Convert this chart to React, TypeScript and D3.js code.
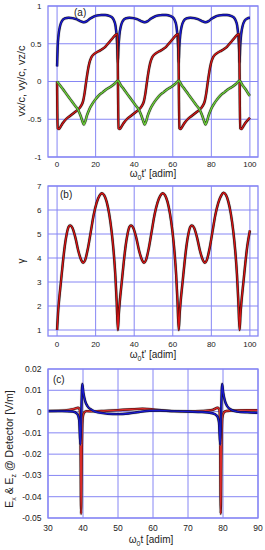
import React, { useEffect, useRef } from 'react';
import * as d3 from 'd3';

// panel (a): velocity components vs w0 t'  ([t, value])
const vxRed: [number, number][] = [
  [0, 0], [0.3, -0.62], [1, -0.63], [2, -0.59], [3, -0.55], [5, -0.49], [7, -0.45], [9, -0.41],
  [11, -0.37], [12.5, -0.32], [13.5, -0.26], [14.3, -0.15], [15, -0.02], [15.8, 0.12], [16.7, 0.24],
  [17.8, 0.32], [19.5, 0.37], [21.5, 0.4], [23.5, 0.43], [25, 0.46], [27, 0.52], [29, 0.58],
  [30.5, 0.62], [31.3, 0.63],
  [31.85, -0.62], [32.55, -0.63], [33.55, -0.59], [34.55, -0.55], [36.55, -0.49], [38.55, -0.45],
  [40.55, -0.41], [42.55, -0.37], [44.05, -0.32], [45.05, -0.26], [45.85, -0.15], [46.55, -0.02],
  [47.35, 0.12], [48.25, 0.24], [49.35, 0.32], [51.05, 0.37], [53.05, 0.4], [55.05, 0.43],
  [56.55, 0.46], [58.55, 0.52], [60.55, 0.58], [62.05, 0.62], [62.85, 0.63],
  [63.4, -0.62], [64.1, -0.63], [65.1, -0.59], [66.1, -0.55], [68.1, -0.49], [70.1, -0.45],
  [72.1, -0.41], [74.1, -0.37], [75.6, -0.32], [76.6, -0.26], [77.4, -0.15], [78.1, -0.02],
  [78.9, 0.12], [79.8, 0.24], [80.9, 0.32], [82.6, 0.37], [84.6, 0.4], [86.6, 0.43], [88.1, 0.46],
  [90.1, 0.52], [92.1, 0.58], [93.6, 0.62], [94.4, 0.63],
  [94.95, -0.62], [95.65, -0.63], [96.65, -0.59], [97.65, -0.55], [99.65, -0.49], [100, -0.48],
];

const vyGreen: [number, number][] = [
  [0, 0], [1.5, -0.05], [3, -0.1], [5, -0.17], [7, -0.24], [9, -0.31], [11, -0.38], [12.3, -0.46],
  [13.2, -0.53], [13.9, -0.57], [14.6, -0.53], [15.5, -0.45], [16.7, -0.37], [18.2, -0.3],
  [19.8, -0.24], [21.8, -0.18], [23.8, -0.14], [25.8, -0.1], [27.8, -0.07], [29.8, -0.03], [31.55, 0.01],
  [33.05, -0.05], [34.55, -0.1], [36.55, -0.17], [38.55, -0.24], [40.55, -0.31], [42.55, -0.38],
  [43.85, -0.46], [44.75, -0.53], [45.45, -0.57], [46.15, -0.53], [47.05, -0.45], [48.25, -0.37],
  [49.75, -0.3], [51.35, -0.24], [53.35, -0.18], [55.35, -0.14], [57.35, -0.1], [59.35, -0.07],
  [61.35, -0.03], [63.1, 0.01],
  [64.6, -0.05], [66.1, -0.1], [68.1, -0.17], [70.1, -0.24], [72.1, -0.31], [74.1, -0.38],
  [75.4, -0.46], [76.3, -0.53], [77.0, -0.57], [77.7, -0.53], [78.6, -0.45], [79.8, -0.37],
  [81.3, -0.3], [82.9, -0.24], [84.9, -0.18], [86.9, -0.14], [88.9, -0.1], [90.9, -0.07],
  [92.9, -0.03], [94.65, 0.01],
  [96.15, -0.05], [97.65, -0.1], [99.65, -0.18], [100, -0.19],
];

const vzBlue: [number, number][] = [
  [0, 0.2], [0.3, 0.45], [0.8, 0.62], [1.5, 0.73], [2.5, 0.8], [4, 0.835], [6, 0.845], [8, 0.84],
  [10, 0.825], [12, 0.8], [13.8, 0.785], [15.5, 0.8], [17, 0.83], [19, 0.86], [21, 0.875], [23, 0.88],
  [25, 0.88], [27, 0.87], [28.5, 0.85], [29.5, 0.81], [30.3, 0.74], [30.9, 0.6], [31.3, 0.42], [31.55, 0.25],
  [31.85, 0.45], [32.35, 0.62], [33.05, 0.73], [34.05, 0.8], [35.55, 0.835], [37.55, 0.845],
  [39.55, 0.84], [41.55, 0.825], [43.55, 0.8], [45.35, 0.785], [47.05, 0.8], [48.55, 0.83],
  [50.55, 0.86], [52.55, 0.875], [54.55, 0.88], [56.55, 0.88], [58.55, 0.87], [60.05, 0.85],
  [61.05, 0.81], [61.85, 0.74], [62.45, 0.6], [62.85, 0.42], [63.1, 0.25],
  [63.4, 0.45], [63.9, 0.62], [64.6, 0.73], [65.6, 0.8], [67.1, 0.835], [69.1, 0.845], [71.1, 0.84],
  [73.1, 0.825], [75.1, 0.8], [76.9, 0.785], [78.6, 0.8], [80.1, 0.83], [82.1, 0.86], [84.1, 0.875],
  [86.1, 0.88], [88.1, 0.88], [90.1, 0.87], [91.6, 0.85], [92.6, 0.81], [93.4, 0.74], [94.0, 0.6],
  [94.4, 0.42], [94.65, 0.25],
  [94.95, 0.45], [95.45, 0.62], [96.15, 0.73], [97.15, 0.8], [98.65, 0.835], [100, 0.845],
];

// panel (b): gamma vs w0 t'
const gammaRed: [number, number][] = [
  [0, 1], [0.5, 1.7], [1, 2.2], [2, 3.0], [3, 3.8], [4, 4.5], [5, 5.0], [6, 5.3], [6.8, 5.36],
  [8, 5.25], [9.5, 4.85], [11, 4.3], [12.5, 3.92], [13.5, 3.8], [14.5, 3.9], [16, 4.4], [17.5, 5.1],
  [19, 5.8], [20.5, 6.3], [22, 6.6], [23.2, 6.7], [24.4, 6.62], [25.7, 6.35], [27, 5.85], [28.3, 5.1],
  [29.3, 4.3], [30.2, 3.3], [30.9, 2.2], [31.55, 1],
  [32.05, 1.7], [32.55, 2.2], [33.55, 3.0], [34.55, 3.8], [35.55, 4.5], [36.55, 5.0], [37.55, 5.3],
  [38.35, 5.36], [39.55, 5.25], [41.05, 4.85], [42.55, 4.3], [44.05, 3.92], [45.05, 3.8], [46.05, 3.9],
  [47.55, 4.4], [49.05, 5.1], [50.55, 5.8], [52.05, 6.3], [53.55, 6.6], [54.75, 6.7], [55.95, 6.62],
  [57.25, 6.35], [58.55, 5.85], [59.85, 5.1], [60.85, 4.3], [61.75, 3.3], [62.45, 2.2], [63.1, 1],
  [63.6, 1.7], [64.1, 2.2], [65.1, 3.0], [66.1, 3.8], [67.1, 4.5], [68.1, 5.0], [69.1, 5.3],
  [69.9, 5.36], [71.1, 5.25], [72.6, 4.85], [74.1, 4.3], [75.6, 3.92], [76.6, 3.8], [77.6, 3.9],
  [79.1, 4.4], [80.6, 5.1], [82.1, 5.8], [83.6, 6.3], [85.1, 6.6], [86.3, 6.72], [87.5, 6.64],
  [88.8, 6.35], [90.1, 5.85], [91.4, 5.1], [92.4, 4.3], [93.3, 3.3], [94.0, 2.2], [94.65, 1],
  [95.15, 1.7], [95.65, 2.2], [96.65, 3.0], [97.65, 3.8], [98.65, 4.5], [100, 5.15],
];

// panel (c): fields at detector vs w0 t
const exRed: [number, number][] = [
  [30, 0.0003], [33, 0.0004], [36, 0.0008], [37.5, 0.0013], [38.6, 0.0018], [39.05, 0.001],
  [39.25, -0.006], [39.45, -0.048], [39.65, -0.018], [39.9, -0.003], [40.3, -0.0005], [41, 0.0002],
  [43, 0.0001], [46, 0.0003], [50, 0.0007], [54, 0.0011], [57, 0.0013], [60, 0.001], [63, 0.0005],
  [66, 0.0002], [70, 0.0001], [74, 0.0003], [77, 0.0008], [78.5, 0.0018], [78.95, 0.001],
  [79.15, -0.006], [79.35, -0.048], [79.55, -0.018], [79.8, -0.003], [80.2, -0.0005], [81, 0.0003],
  [84, 0.0005], [87, 0.0006], [90, 0.0006],
];

const ezBlue: [number, number][] = [
  [30, 0.0002], [34, 0.0002], [37, 0.0], [38.3, -0.001], [38.9, -0.004], [39.25, -0.0155],
  [39.5, -0.001], [39.8, 0.013], [40.1, 0.009], [40.6, 0.005], [41.3, 0.0025], [42.5, 0.0008],
  [44, -0.0003], [47, -0.001], [50, -0.0012], [53, -0.0009], [56, -0.0002], [59, 0.0004],
  [62, 0.0005], [66, 0.0002], [70, 0.0], [74, -0.0002], [77, -0.0008], [78.3, -0.002],
  [78.85, -0.005], [79.2, -0.0155], [79.45, -0.001], [79.75, 0.013], [80.05, 0.009], [80.55, 0.005],
  [81.2, 0.0025], [82.4, 0.0008], [84, 0.0], [87, -0.0004], [90, -0.0006],
];

const tickX_ab = [0, 20, 40, 60, 80, 100];
const tickY_a = [1, 0.5, 0, -0.5, -1];
const tickY_b = [1, 2, 3, 4, 5, 6, 7];
const tickX_c = [30, 40, 50, 60, 70, 80, 90];
const tickY_c = [0.02, 0.01, 0, -0.01, -0.02, -0.03, -0.04, -0.05];

const GRID = '#8686f4';
const FONT = '"Liberation Sans", Arial, Helvetica, sans-serif';

const App = () => {
  const svgRef = useRef<SVGSVGElement>(null);

  useEffect(() => {
    const svg = d3.select(svgRef.current);
    svg.selectAll('*').remove();

    const left = 48;
    const right = 258;

    const panels = [
      {
        id: 'a', top: 6, bottom: 157, xDom: [-4.7, 104.2], yDom: [-1, 1],
        xTicks: tickX_ab, yTicks: tickY_a, tickFs: 8, xLabY: 167,
        series: [
          { data: vzBlue, color: '#1a1ad0', under: '#0a0a30' },
          { data: vxRed, color: '#d01818', under: '#2a0505' },
          { data: vyGreen, color: '#6ccc3a', under: '#1f3a12' },
        ],
      },
      {
        id: 'b', top: 186, bottom: 336, xDom: [-4.7, 104.2], yDom: [0.75, 7],
        xTicks: tickX_ab, yTicks: tickY_b, tickFs: 8, xLabY: 347,
        series: [{ data: gammaRed, color: '#d81414', under: '#1a0a0a' }],
      },
      {
        id: 'c', top: 369, bottom: 518, xDom: [30, 90], yDom: [-0.05, 0.02],
        xTicks: tickX_c, yTicks: tickY_c, tickFs: 8.5, xLabY: 531,
        series: [
          { data: exRed, color: '#dc2a2a', under: '#3a0808' },
          { data: ezBlue, color: '#1a1ad0', under: '#0a0a30' },
        ],
      },
    ];

    panels.forEach((p) => {
      const x = d3.scaleLinear().domain(p.xDom).range([left, right]);
      const y = d3.scaleLinear().domain(p.yDom).range([p.bottom, p.top]);
      const g = svg.append('g');

      // grid
      g.selectAll('.vg')
        .data(p.xTicks)
        .join('line')
        .attr('x1', (d) => x(d)).attr('x2', (d) => x(d))
        .attr('y1', p.top).attr('y2', p.bottom)
        .attr('stroke', GRID).attr('stroke-width', 1);
      g.selectAll('.hg')
        .data(p.yTicks)
        .join('line')
        .attr('x1', left).attr('x2', right)
        .attr('y1', (d) => y(d)).attr('y2', (d) => y(d))
        .attr('stroke', GRID).attr('stroke-width', 1);

      // clip
      svg.append('clipPath').attr('id', `clip-${p.id}`)
        .append('rect')
        .attr('x', left).attr('y', p.top)
        .attr('width', right - left).attr('height', p.bottom - p.top);

      const line = d3.line<[number, number]>()
        .x((d) => x(d[0]))
        .y((d) => y(d[1]))
        .curve(d3.curveMonotoneX);

      const lg = g.append('g').attr('clip-path', `url(#clip-${p.id})`);
      p.series.forEach((s) => {
        lg.append('path').attr('d', line(s.data))
          .attr('fill', 'none').attr('stroke', '#999').attr('stroke-opacity', 0.3)
          .attr('stroke-width', 3.6).attr('stroke-linejoin', 'round');
        lg.append('path').attr('d', line(s.data))
          .attr('fill', 'none').attr('stroke', s.under)
          .attr('stroke-width', 2.4).attr('stroke-linejoin', 'round');
        lg.append('path').attr('d', line(s.data))
          .attr('fill', 'none').attr('stroke', s.color)
          .attr('stroke-width', 1.4).attr('stroke-linejoin', 'round');
      });

      // frame
      g.append('rect')
        .attr('x', left).attr('y', p.top)
        .attr('width', right - left).attr('height', p.bottom - p.top)
        .attr('fill', 'none').attr('stroke', GRID).attr('stroke-width', 1.3);

      // tick labels
      g.selectAll('.xl')
        .data(p.xTicks)
        .join('text')
        .attr('x', (d) => x(d)).attr('y', p.xLabY)
        .attr('text-anchor', 'middle')
        .attr('font-size', p.tickFs).attr('font-family', FONT).attr('fill', '#222')
        .text((d) => String(d));
      g.selectAll('.yl')
        .data(p.yTicks)
        .join('text')
        .attr('x', 41.5).attr('y', (d) => y(d)).attr('dy', '0.35em')
        .attr('text-anchor', 'end')
        .attr('font-size', p.tickFs).attr('font-family', FONT).attr('fill', '#222')
        .text((d) => String(d));
    });

    const txt = (xx: number, yy: number, fs: number, rot = false) =>
      svg.append('text')
        .attr('transform', rot ? `translate(${xx},${yy}) rotate(-90)` : `translate(${xx},${yy})`)
        .attr('text-anchor', 'middle')
        .attr('font-size', fs).attr('font-family', FONT).attr('fill', '#222');

    // x titles
    [[153, 177, "t' [adim]"], [153, 358, "t' [adim]"], [151, 543, 't [adim]']].forEach(([xx, yy, s]) => {
      const t = txt(xx as number, yy as number, 10);
      t.append('tspan').text('\u03c9');
      t.append('tspan').attr('font-size', 7).attr('dy', 3).text('0');
      t.append('tspan').attr('dy', -3).text(s as string);
    });

    // y titles
    txt(25, 81, 11, true).text('vx/c, vy/c, vz/c');
    txt(25, 261, 10, true).text('\u03b3');
    const ty = txt(13, 449, 10.5, true);
    ty.append('tspan').text('E');
    ty.append('tspan').attr('font-size', 7).attr('dy', 3).text('x');
    ty.append('tspan').attr('dy', -3).text(' & E');
    ty.append('tspan').attr('font-size', 7).attr('dy', 3).text('z');
    ty.append('tspan').attr('dy', -3).text(' @ Detector [V/m]');

    // panel labels
    [[74, 16, '(a)'], [60, 198, '(b)'], [53, 383, '(c)']].forEach(([xx, yy, s]) => {
      svg.append('text').attr('x', xx).attr('y', yy)
        .attr('font-size', 10).attr('font-family', FONT).attr('fill', '#222')
        .text(s as string);
    });
  }, []);

  return (
    <svg
      ref={svgRef}
      width={265}
      height={550}
      style={{ position: 'absolute', left: 0, top: 0, background: 'white' }}
    />
  );
};

export default App;
